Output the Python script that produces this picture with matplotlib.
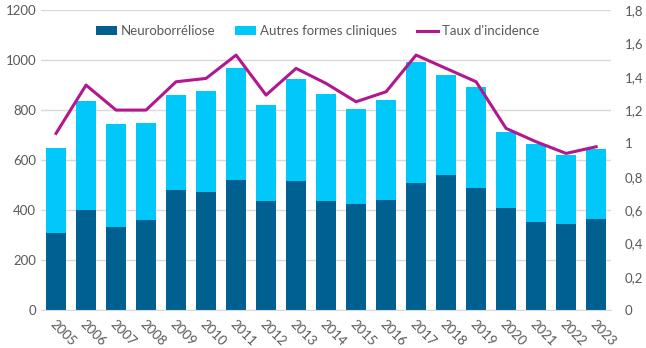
import numpy as np
import matplotlib
matplotlib.use("Agg")
from matplotlib import pyplot as plt

years = ["2005", "2006", "2007", "2008", "2009", "2010", "2011", "2012", "2013", "2014",
         "2015", "2016", "2017", "2018", "2019", "2020", "2021", "2022", "2023"]
neuro = [309, 400, 331, 360, 480, 472, 521, 435, 516, 435,
         424, 441, 509, 539, 488, 408, 353, 345, 364]
total = [649, 836, 744, 747, 860, 877, 967, 821, 925, 864,
         804, 841, 991, 939, 892, 711, 663, 620, 645]
autres = [t - n for t, n in zip(total, neuro)]
incidence = [1.06, 1.35, 1.20, 1.20, 1.37, 1.39, 1.53, 1.29, 1.45, 1.36,
             1.25, 1.31, 1.53, 1.45, 1.37, 1.09, 1.01, 0.94, 0.98]

left_ticks = [0, 200, 400, 600, 800, 1000, 1200]
right_ticks = [0, 0.2, 0.4, 0.6, 0.8, 1.0, 1.2, 1.4, 1.6, 1.8]
right_labels = ["0", "0,2", "0,4", "0,6", "0,8", "1", "1,2", "1,4", "1,6", "1,8"]

dark = "#00608F"
light = "#00C9FA"
magenta = "#B3178F"
grey = "#595959"

plt.rcParams['font.family'] = ['Lato', 'DejaVu Sans']

fig = plt.figure(figsize=(6.46, 3.48), dpi=100)
ax = fig.add_axes([0.0635, 0.109, 0.8825, 0.862])
x = np.arange(len(years))

ax.bar(x, neuro, width=0.67, color=dark, label="Neuroborréliose", zorder=2)
ax.bar(x, autres, width=0.67, bottom=neuro, color=light, label="Autres formes cliniques", zorder=2)
ax.set_ylim(0, 1200)
ax.set_yticks(left_ticks)
ax.set_xlim(-0.5, len(years) - 0.5)
ax.set_xticks(x)
ax.set_xticklabels(years, rotation=-45, ha="left", rotation_mode="anchor")
ax.grid(axis="y", color="#D9D9D9", linewidth=1, zorder=0)
ax.set_axisbelow(True)
for s in ["top", "right", "left"]:
    ax.spines[s].set_visible(False)
ax.spines["bottom"].set_color("#D9D9D9")
ax.tick_params(axis="both", length=0, labelsize=9.5, colors=grey)
ax.tick_params(axis="x", pad=6)

ax2 = ax.twinx()
ax2.plot(x, incidence, color=magenta, linewidth=2.2, label="Taux d'incidence", zorder=3)
ax2.set_ylim(0, 1.8)
ax2.set_yticks(right_ticks)
ax2.set_yticklabels(right_labels)
for s in ["top", "right", "left", "bottom"]:
    ax2.spines[s].set_visible(False)
ax2.tick_params(axis="y", length=0, labelsize=9.5, colors=grey, pad=10)

h1, l1 = ax.get_legend_handles_labels()
h2, l2 = ax2.get_legend_handles_labels()
leg = ax.legend(h1 + h2, l1 + l2, loc="upper center", bbox_to_anchor=(0.485, 0.99), ncol=3,
                frameon=False, fontsize=9.5, handlelength=1.6, handleheight=0.6,
                columnspacing=1.5, handletextpad=0.3)
for t in leg.get_texts():
    t.set_color(grey)

fig.savefig("out.png", dpi=100)
